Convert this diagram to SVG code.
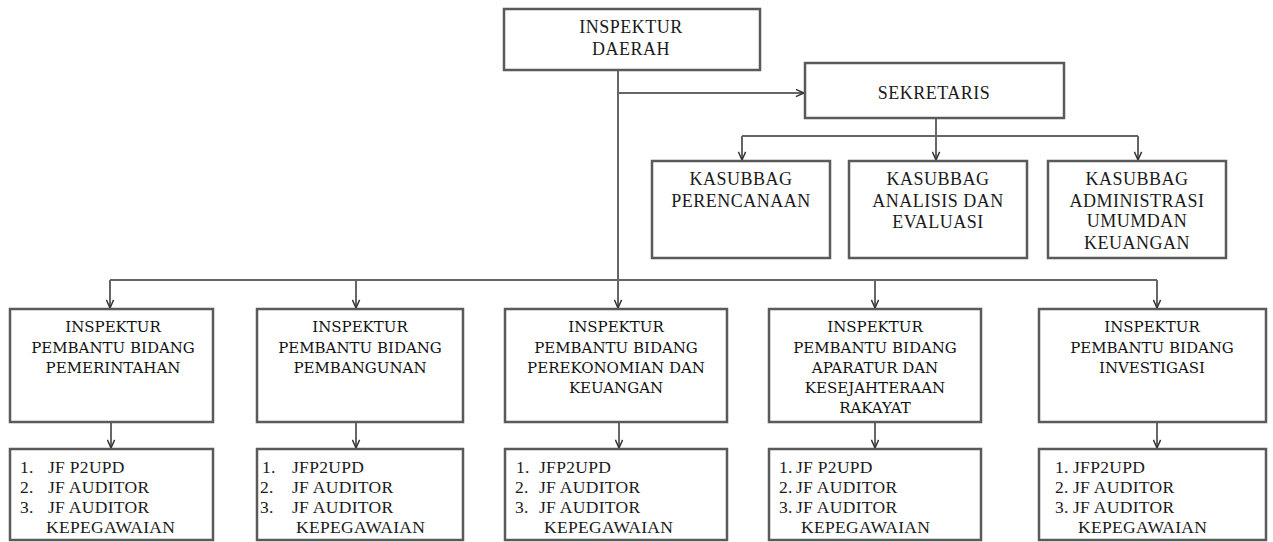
<svg xmlns="http://www.w3.org/2000/svg" width="1273" height="542" viewBox="0 0 1273 542">
<style>
.box{fill:#fff;stroke:#5a5a5a;stroke-width:2.5}
.ln{fill:none;stroke:#666;stroke-width:2}
.t{font-family:"Liberation Serif","Times New Roman",serif;font-size:18px;fill:#1a1a1a;text-anchor:middle;letter-spacing:0.5px}
.b{font-family:"DejaVu Serif",serif;font-size:15px;fill:#111;text-anchor:middle}
.l{font-family:"Liberation Serif","Times New Roman",serif;font-size:17.5px;fill:#1a1a1a;letter-spacing:0.3px}
</style>
<defs>
<marker id="arr" viewBox="0 0 10 10" refX="10" refY="5" markerWidth="9" markerHeight="9" markerUnits="userSpaceOnUse" orient="auto">
<path d="M1,1 L10,5 L1,9" fill="none" stroke="#333" stroke-width="1.6"/>
</marker>
</defs>
<g id="connectors">
<path class="ln" d="M618,70 V280"/>
<path class="ln" d="M618,93 H804" marker-end="url(#arr)"/>
<path class="ln" d="M936,118 V136"/>
<path class="ln" d="M742,136 H1138"/>
<path class="ln" d="M742,136 V160" marker-end="url(#arr)"/>
<path class="ln" d="M936,136 V160" marker-end="url(#arr)"/>
<path class="ln" d="M1138,136 V160" marker-end="url(#arr)"/>
<path class="ln" d="M110,280 H1157"/>
<path class="ln" d="M110,280 V308" marker-end="url(#arr)"/>
<path class="ln" d="M356,280 V308" marker-end="url(#arr)"/>
<path class="ln" d="M618,280 V308" marker-end="url(#arr)"/>
<path class="ln" d="M875,280 V308" marker-end="url(#arr)"/>
<path class="ln" d="M1157,280 V308" marker-end="url(#arr)"/>
<path class="ln" d="M111,422 V448" marker-end="url(#arr)"/>
<path class="ln" d="M356,422 V448" marker-end="url(#arr)"/>
<path class="ln" d="M619,422 V448" marker-end="url(#arr)"/>
<path class="ln" d="M875,422 V448" marker-end="url(#arr)"/>
<path class="ln" d="M1157,422 V448" marker-end="url(#arr)"/>
</g>
<g id="inspektur-daerah">
<rect class="box" x="504" y="9" width="256" height="61"/>
<text class="t" x="631" y="33">INSPEKTUR</text>
<text class="t" x="631" y="55">DAERAH</text>
</g>
<g id="sekretaris">
<rect class="box" x="805" y="63" width="259" height="55"/>
<text class="t" x="934" y="99">SEKRETARIS</text>
</g>
<g id="kasubbag-perencanaan">
<rect class="box" x="652" y="161" width="178" height="97"/>
<text class="t" x="741" y="185">KASUBBAG</text>
<text class="t" x="741" y="207">PERENCANAAN</text>
</g>
<g id="kasubbag-analisis">
<rect class="box" x="849" y="161" width="178" height="97"/>
<text class="t" x="938" y="185">KASUBBAG</text>
<text class="t" x="938" y="207">ANALISIS DAN</text>
<text class="t" x="938" y="228">EVALUASI</text>
</g>
<g id="kasubbag-administrasi">
<rect class="box" x="1048" y="161" width="178" height="97"/>
<text class="t" x="1137" y="185">KASUBBAG</text>
<text class="t" x="1137" y="207">ADMINISTRASI</text>
<text class="t" x="1137" y="227">UMUMDAN</text>
<text class="t" x="1137" y="249">KEUANGAN</text>
</g>
<g id="ipb-pemerintahan">
<rect class="box" x="10" y="309" width="203" height="113"/>
<text class="b" x="113" y="332">INSPEKTUR</text>
<text class="b" x="113" y="353">PEMBANTU BIDANG</text>
<text class="b" x="113" y="373">PEMERINTAHAN</text>
</g>
<g id="ipb-pembangunan">
<rect class="box" x="257" y="309" width="206" height="113"/>
<text class="b" x="360" y="332">INSPEKTUR</text>
<text class="b" x="360" y="353">PEMBANTU BIDANG</text>
<text class="b" x="360" y="373">PEMBANGUNAN</text>
</g>
<g id="ipb-perekonomian">
<rect class="box" x="505" y="309" width="222" height="113"/>
<text class="b" x="616" y="332">INSPEKTUR</text>
<text class="b" x="616" y="353">PEMBANTU BIDANG</text>
<text class="b" x="616" y="373">PEREKONOMIAN DAN</text>
<text class="b" x="616" y="393">KEUANGAN</text>
</g>
<g id="ipb-aparatur">
<rect class="box" x="769" y="309" width="212" height="113"/>
<text class="b" x="875" y="332">INSPEKTUR</text>
<text class="b" x="875" y="353">PEMBANTU BIDANG</text>
<text class="b" x="875" y="373">APARATUR DAN</text>
<text class="b" x="875" y="393">KESEJAHTERAAN</text>
<text class="b" x="875" y="413">RAKAYAT</text>
</g>
<g id="ipb-investigasi">
<rect class="box" x="1039" y="309" width="227" height="113"/>
<text class="b" x="1152" y="332">INSPEKTUR</text>
<text class="b" x="1152" y="353">PEMBANTU BIDANG</text>
<text class="b" x="1152" y="373">INVESTIGASI</text>
</g>
<g id="jf-pemerintahan">
<rect class="box" x="10" y="449" width="203" height="91"/>
<text class="l" x="20" y="473">1.</text><text class="l" x="48" y="473">JF P2UPD</text>
<text class="l" x="20" y="493">2.</text><text class="l" x="48" y="493">JF AUDITOR</text>
<text class="l" x="20" y="513">3.</text><text class="l" x="48" y="513">JF AUDITOR</text>
<text class="l" x="46" y="533">KEPEGAWAIAN</text>
</g>
<g id="jf-pembangunan">
<rect class="box" x="257" y="449" width="206" height="91"/>
<text class="l" x="262" y="473">1.</text><text class="l" x="292" y="473">JFP2UPD</text>
<text class="l" x="260" y="493">2.</text><text class="l" x="292" y="493">JF AUDITOR</text>
<text class="l" x="260" y="513">3.</text><text class="l" x="292" y="513">JF AUDITOR</text>
<text class="l" x="296" y="533">KEPEGAWAIAN</text>
</g>
<g id="jf-perekonomian">
<rect class="box" x="505" y="449" width="222" height="91"/>
<text class="l" x="516" y="473">1.</text><text class="l" x="539" y="473">JFP2UPD</text>
<text class="l" x="515" y="493">2.</text><text class="l" x="539" y="493">JF AUDITOR</text>
<text class="l" x="515" y="513">3.</text><text class="l" x="539" y="513">JF AUDITOR</text>
<text class="l" x="544" y="533">KEPEGAWAIAN</text>
</g>
<g id="jf-aparatur">
<rect class="box" x="769" y="449" width="212" height="91"/>
<text class="l" x="779" y="473">1.</text><text class="l" x="796" y="473">JF P2UPD</text>
<text class="l" x="779" y="493">2.</text><text class="l" x="796" y="493">JF AUDITOR</text>
<text class="l" x="779" y="513">3.</text><text class="l" x="796" y="513">JF AUDITOR</text>
<text class="l" x="801" y="533">KEPEGAWAIAN</text>
</g>
<g id="jf-investigasi">
<rect class="box" x="1039" y="449" width="227" height="91"/>
<text class="l" x="1055" y="473">1.</text><text class="l" x="1073" y="473">JFP2UPD</text>
<text class="l" x="1055" y="493">2.</text><text class="l" x="1073" y="493">JF AUDITOR</text>
<text class="l" x="1055" y="513">3.</text><text class="l" x="1073" y="513">JF AUDITOR</text>
<text class="l" x="1078" y="533">KEPEGAWAIAN</text>
</g>
</svg>
